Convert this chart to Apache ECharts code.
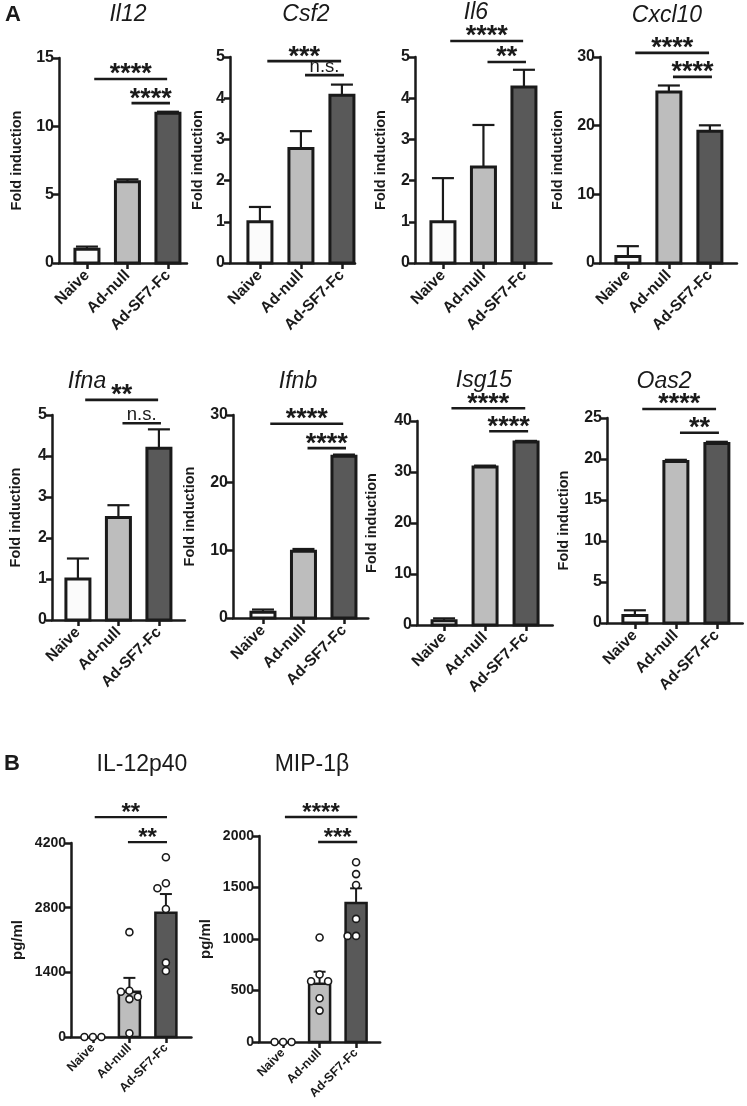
<!DOCTYPE html>
<html><head><meta charset="utf-8">
<script src="https://cdn.jsdelivr.net/npm/echarts@6/dist/echarts.min.js"></script>
<style>html,body{margin:0;padding:0;background:#fff}#c{width:747px;height:1106px}</style>
</head><body><div id="c"></div>
<script>
// ---------------- DATA ----------------
const groups = ['Naive', 'Ad-null', 'Ad-SF7-Fc'];

const geneNames = ['Il12', 'Csf2', 'Il6', 'Cxcl10', 'Ifna', 'Ifnb', 'Isg15', 'Oas2'];
const geneMeans = [
  [1.0, 5.95, 10.95],
  [1.0, 2.78, 4.07],
  [1.0, 2.33, 4.27],
  [0.95, 24.9, 19.2],
  [1.0, 2.5, 4.19],
  [0.85, 9.85, 23.9],
  [0.85, 31.0, 35.9],
  [0.9, 19.7, 21.9]
];
const geneSems = [
  [0.2, 0.17, 0.12],
  [0.36, 0.42, 0.26],
  [1.06, 1.02, 0.42],
  [1.5, 0.95, 0.85],
  [0.5, 0.3, 0.46],
  [0.4, 0.35, 0.25],
  [0.45, 0.25, 0.2],
  [0.65, 0.2, 0.2]
];
const geneYMax = [15, 5, 5, 30, 5, 30, 40, 25];
const geneYStep = [5, 1, 1, 10, 1, 10, 10, 5];
const sigPairs = [[0, 2], [1, 2]];
const geneSigLabels = [
  ['****', '****'], ['***', 'n.s.'], ['****', '**'], ['****', '****'],
  ['**', 'n.s.'], ['****', '****'], ['****', '****'], ['****', '**']
];
const geneSigLevels = [
  [13.46, 11.7], [4.9, 4.56], [5.39, 4.88], [30.6, 27.1],
  [5.37, 4.8], [28.7, 25.1], [42.5, 38.0], [26.1, 23.2]
];

const cytoNames = ['IL-12p40', 'MIP-1β'];
const cytoMeans = [[0, 980, 2690], [0, 565, 1350]];
const cytoSems = [[0, 300, 405], [0, 117, 142]];
const il12p40Points = [[0, 0, 0], [2270, 1000, 980, 870, 820, 80], [3890, 3330, 3220, 2770, 1610, 1430]];
const mip1bPoints = [[0, 0, 0], [1015, 655, 590, 590, 425, 305], [1745, 1630, 1525, 1195, 1030, 1030]];
const cytoYMax = [4200, 2000];
const cytoYStep = [1400, 500];
const cytoSigLabels = [['**', '**'], ['****', '***']];
const cytoSigLevels = [[4760, 4220], [2185, 1942]];

// ---------------- LAYOUT / STYLE ----------------
const FONT = '"Liberation Sans", Arial, Helvetica, sans-serif';
const INK = '#1a1a1a';
const FILLS = ['#fbfbfb', '#bdbdbd', '#595959'];

const layouts = [
  {left: 59, top: 58, h: 205, sp: 40.5, xmin: -0.69, xmax: 2.47, gap: 35, tx: 128, ty: 15},
  {left: 230, top: 57, h: 206, sp: 41, xmin: -0.73, xmax: 2.32, gap: 25, tx: 306, ty: 15},
  {left: 415, top: 57, h: 206, sp: 40.5, xmin: -0.69, xmax: 2.68, gap: 27, tx: 476, ty: 13},
  {left: 600, top: 57, h: 206, sp: 41, xmin: -0.68, xmax: 2.66, gap: 35, tx: 667, ty: 16},
  {left: 52, top: 415, h: 205, sp: 40.5, xmin: -0.64, xmax: 2.64, gap: 29, tx: 87, ty: 382},
  {left: 233, top: 415, h: 203, sp: 40.5, xmin: -0.74, xmax: 2.6, gap: 36, tx: 298, ty: 382},
  {left: 417, top: 421, h: 204, sp: 41, xmin: -0.66, xmax: 2.65, gap: 38, tx: 484, ty: 381},
  {left: 607, top: 418, h: 205, sp: 41, xmin: -0.68, xmax: 2.63, gap: 36, tx: 664, ty: 382},
  {left: 71, top: 843, h: 194, sp: 36.5, xmin: -0.6, xmax: 2.7, gap: 46, tx: 142, ty: 765},
  {left: 259, top: 836, h: 206, sp: 36.5, xmin: -0.66, xmax: 2.66, gap: 46, tx: 312, ty: 765}
];
const styleA = {barW: 24, border: 3, capW: 22, errW: 2.2, tickFont: 16, catFont: 15.5, catMargin: 10, nameFont: 14.5,
  starFont: 27, nsFont: 18.5, insets: [[0.18, -0.02], [0.1, 0.05]], brW: 2.6, titleFont: 23, italic: true};
const styleB = {barW: 21, border: 2.5, capW: 12, errW: 2, tickFont: 14, catFont: 12.5, catMargin: 9, nameFont: 15,
  starFont: 24, nsFont: 16, insets: [[0.05, 0.03], [-0.04, 0.03]], brW: 2.4, titleFont: 23, italic: false};

const panels = [];
geneNames.forEach((n, i) => panels.push({title: n, means: geneMeans[i], sems: geneSems[i], ymax: geneYMax[i],
  ystep: geneYStep[i], labels: geneSigLabels[i], levels: geneSigLevels[i], points: null, yname: 'Fold induction', st: styleA}));
const cytoPoints = [il12p40Points, mip1bPoints];
cytoNames.forEach((n, i) => panels.push({title: n, means: cytoMeans[i], sems: cytoSems[i], ymax: cytoYMax[i],
  ystep: cytoYStep[i], labels: cytoSigLabels[i], levels: cytoSigLevels[i], points: cytoPoints[i], yname: 'pg/ml', st: styleB}));

// ---------------- BUILD OPTION ----------------
const grid = [], xAxis = [], yAxis = [], series = [], graphic = [];

function swarm(ys, step, minDist) {
  const placed = [], offs = [];
  const order = [0, -1, 1, -2, 2, -3, 3];
  ys.forEach(y => {
    for (const k of order) {
      const x = k * step;
      if (placed.every(p => Math.hypot(p[0] - x, p[1] - y) >= minDist)) { placed.push([x, y]); offs.push(x); break; }
    }
  });
  return offs;
}

panels.forEach((p, i) => {
  const L = layouts[i], st = p.st;
  grid.push({left: L.left, top: L.top, width: (L.xmax - L.xmin) * L.sp, height: L.h, containLabel: false});
  xAxis.push({
    gridIndex: i, type: 'value', min: L.xmin, max: L.xmax, splitLine: {show: false},
    axisLine: {show: true, onZero: false, lineStyle: {color: INK, width: 2.5}},
    axisTick: {show: true, customValues: [0, 1, 2], length: 6, lineStyle: {color: INK, width: 2.5}},
    axisLabel: {customValues: [0, 1, 2], rotate: 45, formatter: v => groups[Math.round(v)], margin: st.catMargin,
      color: INK, fontFamily: FONT, fontWeight: 'bold', fontSize: st.catFont}
  });
  yAxis.push({
    gridIndex: i, type: 'value', min: 0, max: p.ymax, interval: p.ystep, splitLine: {show: false},
    axisLine: {show: true, onZero: false, lineStyle: {color: INK, width: 2.5}},
    axisTick: {show: true, length: 6, lineStyle: {color: INK, width: 2.5}},
    axisLabel: {color: INK, fontFamily: FONT, fontWeight: 'bold', fontSize: st.tickFont, margin: 5,
      formatter: v => String(v)},
    name: p.yname, nameLocation: 'middle', nameGap: L.gap,
    nameTextStyle: {color: INK, fontFamily: FONT, fontWeight: 'bold', fontSize: st.nameFont}
  });
  // bars + error bars
  series.push({
    type: 'custom', xAxisIndex: i, yAxisIndex: i, clip: false,
    data: p.means.map((m, j) => [j, m, p.sems[j]]),
    renderItem: (params, api) => {
      const j = api.value(0), m = api.value(1), s = api.value(2);
      const p0 = api.coord([j, 0]), p1 = api.coord([j, m]), p2 = api.coord([j, m + s]);
      const ch = [];
      if (s > 0) {
        ch.push({type: 'line', shape: {x1: p1[0], y1: p1[1], x2: p2[0], y2: p2[1]}, style: {stroke: INK, lineWidth: st.errW}});
        ch.push({type: 'line', shape: {x1: p2[0] - st.capW / 2, y1: p2[1], x2: p2[0] + st.capW / 2, y2: p2[1]}, style: {stroke: INK, lineWidth: st.errW}});
      }
      if (p0[1] - p1[1] > 0.5) {
        ch.push({type: 'rect', shape: {x: p0[0] - st.barW / 2, y: p1[1], width: st.barW, height: p0[1] - p1[1]},
          style: {fill: FILLS[j], stroke: INK, lineWidth: st.border}});
      }
      return {type: 'group', children: ch};
    }
  });
  // dots
  if (p.points) {
    const dotData = [];
    p.points.forEach((arr, g) => arr.forEach((v, k) => dotData.push([g, v, k])));
    series.push({
      type: 'custom', xAxisIndex: i, yAxisIndex: i, clip: false, z: 5,
      data: dotData,
      renderItem: (params, api) => {
        const g = api.value(0), v = api.value(1), k = api.value(2);
        const ys = p.points[g].map(val => api.coord([g, val])[1]);
        const offs = swarm(ys, 8.5, 8);
        const c = api.coord([g, v]);
        return {type: 'circle', shape: {cx: c[0] + offs[k], cy: c[1], r: 3.5}, style: {fill: '#fff', stroke: INK, lineWidth: 1.6}};
      }
    });
  }
  // significance brackets
  series.push({
    type: 'custom', xAxisIndex: i, yAxisIndex: i, clip: false,
    data: sigPairs.map((pr, k) => [pr[0], pr[1], p.levels[k], k]),
    renderItem: (params, api) => {
      const a = api.value(0), b = api.value(1), lv = api.value(2), k = api.value(3);
      const ins = st.insets[k];
      const q1 = api.coord([a + ins[0], lv]), q2 = api.coord([b + ins[1], lv]);
      const lab = p.labels[k];
      const isNs = lab === 'n.s.';
      return {type: 'group', children: [
        {type: 'line', shape: {x1: q1[0], y1: q1[1], x2: q2[0], y2: q2[1]}, style: {stroke: INK, lineWidth: st.brW}},
        {type: 'text', x: (q1[0] + q2[0]) / 2, y: q1[1] - (isNs ? 8.5 : 4), style: {text: lab, fill: INK,
          font: (isNs ? 'normal ' + st.nsFont : 'bold ' + st.starFont) + 'px ' + FONT, align: 'center', verticalAlign: 'middle'}}
      ]};
    }
  });
  graphic.push({type: 'text', x: L.tx, y: L.ty, style: {text: p.title, fill: INK,
    font: (st.italic ? 'italic ' : '') + 'normal ' + st.titleFont + 'px ' + FONT, align: 'center', verticalAlign: 'middle'}});
});
graphic.push({type: 'text', x: 13, y: 15, style: {text: 'A', fill: INK, font: 'bold 22px ' + FONT, align: 'center', verticalAlign: 'middle'}});
graphic.push({type: 'text', x: 12, y: 764, style: {text: 'B', fill: INK, font: 'bold 22px ' + FONT, align: 'center', verticalAlign: 'middle'}});

const chart = echarts.init(document.getElementById('c'));
chart.setOption({animation: false, backgroundColor: '#fff', grid, xAxis, yAxis, series, graphic});
</script>
</body></html>
